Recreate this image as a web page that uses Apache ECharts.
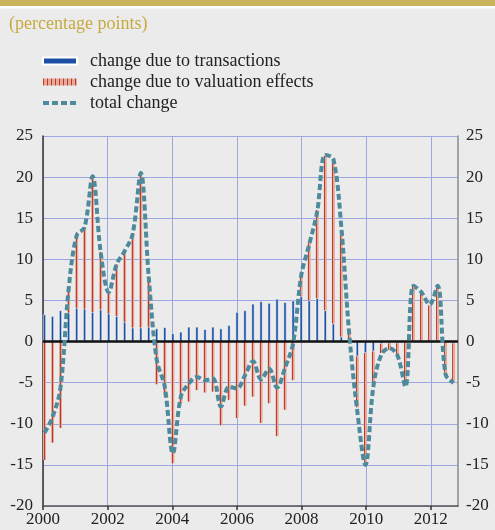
<!DOCTYPE html>
<html>
<head>
<meta charset="utf-8">
<script src="https://cdn.jsdelivr.net/npm/echarts@6/dist/echarts.min.js"></script>
<style>
  html, body { margin: 0; padding: 0; background: #ebebeb; }
  #chart { width: 495px; height: 530px; }
</style>
</head>
<body>
<div id="chart"></div>
<script>
// quarterly data, 2000 Q1 .. 2012 Q4
const firstYear = 2000
const lastYearEdge = 2012.84
const tickYears = [2000, 2002, 2004, 2006, 2008, 2010, 2012]

const transactions = [
  3.3, 3.1, 3.8, 3.5, 4.1, 4.0, 3.6, 3.9, 3.4, 3.1, 2.4, 1.7, 1.7,
  1.8, 1.6, 1.75, 1.0, 1.2, 1.8, 1.8, 1.5, 1.8, 1.6, 2.0, 3.6, 3.8,
  4.6, 4.9, 4.7, 5.2, 4.8, 5.0, 5.5, 5.0, 5.3, 3.8, 2.2, 0.6, 0.2,
  -1.8, -1.4, -1.2, -0.3, -0.2, -0.2, -0.1, 0.1, 0.1, 0.1, 0.1, -0.1, -0.2,
]
const valuation = [
  -14.4, -12.3, -10.5, 2.9, 8.8, 9.9, 16.5, 7.0, 2.5, 6.3, 8.6, 11.5, 18.8,
  6.1, -5.2, -6.7, -14.8, -7.5, -7.3, -5.9, -6.2, -6.1, -10.2, -7.1, -9.3, -7.8,
  -6.7, -9.9, -7.5, -11.5, -8.3, -4.7, 2.9, 7.0, 10.7, 18.8, 19.8, 12.8, 1.2,
  -6.2, -13.3, -4.0, -1.1, -0.8, -1.4, -5.1, 6.7, 6.1, 4.3, 6.7, -3.7, -4.6,
]
const total = [
  -11.1, -9.2, -5.6, 6.3, 12.9, 13.9, 20.1, 10.9, 6.0, 9.4, 11.0, 13.1, 20.5,
  7.9, -2.2, -5.5, -13.6, -6.7, -5.1, -4.3, -4.7, -4.5, -7.9, -5.5, -5.7, -4.1,
  -2.4, -4.6, -3.3, -5.6, -3.2, -0.2, 8.0, 11.8, 15.8, 22.7, 22.2, 14.0, 0.9,
  -8.5, -15.0, -5.5, -1.6, -0.8, -1.7, -5.5, 6.8, 6.0, 4.5, 6.8, -4.0, -5.0,
]

const fontFamily = 'Liberation Serif'
const gridColor = '#9ca7e2'
const DAY = 86400000
const YEAR = 365.25 * DAY
const t0 = Date.UTC(firstYear, 0, 1)

// quarter start dates (time axis, so bars stack on y)
const quarterDates = transactions.map((_, k) => Date.UTC(firstYear + Math.floor(k / 4), (k % 4) * 3, 1))
const toPairs = (values) => values.map((v, k) => [quarterDates[k], v])

// striped fill for valuation effects
const makeStripes = () => {
  const c = document.createElement('canvas')
  c.width = 4
  c.height = 4
  const ctx = c.getContext('2d')
  ctx.fillStyle = '#e5a999'
  ctx.fillRect(0, 0, 4, 4)
  ctx.fillStyle = '#c0392a'
  ctx.fillRect(0, 0, 1, 4)
  return c
}

const axisLabelStyle = { fontFamily: fontFamily, fontSize: 17, color: '#222' }
const lineColor = '#4d8a9b'

const chart = echarts.init(document.getElementById('chart'))
chart.setOption({
  backgroundColor: '#ebebeb',
  animation: false,
  graphic: [
    { type: 'rect', shape: { x: 0, y: 0, width: 495, height: 6 }, style: { fill: '#c9b45b' } },
    { type: 'rect', shape: { x: 0, y: 6, width: 495, height: 2.5 }, style: { fill: '#ffffff' } },
  ],
  title: {
    text: '(percentage points)',
    left: 4,
    top: 10,
    textStyle: { fontFamily: fontFamily, fontSize: 18, fontWeight: 'normal', color: '#c7a93f' },
  },
  legend: {
    orient: 'vertical',
    left: 36,
    top: 47,
    itemWidth: 34,
    itemHeight: 7,
    itemGap: 3,
    textStyle: { fontFamily: fontFamily, fontSize: 18, color: '#222', padding: [0, 0, 0, 8] },
    data: [
      { name: 'change due to transactions', icon: 'rect' },
      { name: 'change due to valuation effects', icon: 'rect' },
      {
        name: 'total change',
        itemStyle: { color: 'rgba(0,0,0,0)', borderWidth: 0 },
        lineStyle: { color: lineColor, width: 4, type: [6, 3] },
      },
    ],
  },
  grid: { left: 43, right: 37, top: 136, bottom: 24 },
  xAxis: [
    {
      // visible year axis
      type: 'value',
      position: 'bottom',
      min: firstYear,
      max: lastYearEdge,
      interval: 2,
      axisLine: { onZero: false, lineStyle: { color: '#555', width: 1.5 } },
      axisTick: { show: true, length: 4, customValues: tickYears, lineStyle: { color: '#333', width: 1.5 } },
      axisLabel: { ...axisLabelStyle, margin: 5, customValues: tickYears, formatter: (v) => String(v) },
      splitLine: { show: true, lineStyle: { color: gridColor, width: 1 } },
    },
    {
      // hidden time axis carrying the data
      type: 'time',
      position: 'top',
      show: false,
      min: t0,
      max: t0 + (lastYearEdge - firstYear) * YEAR,
      splitLine: { show: false },
    },
  ],
  yAxis: [
    {
      type: 'value',
      min: -20,
      max: 25,
      interval: 5,
      position: 'left',
      axisLine: { show: true, onZero: false, lineStyle: { color: '#333', width: 1.5 } },
      axisTick: { show: false },
      axisLabel: { ...axisLabelStyle, margin: 10 },
      splitLine: { show: true, lineStyle: { color: gridColor, width: 1 } },
    },
    {
      type: 'value',
      min: -20,
      max: 25,
      interval: 5,
      position: 'right',
      axisLine: { show: true, onZero: false, lineStyle: { color: '#8a8a8a', width: 1.5 } },
      axisTick: { show: false },
      axisLabel: { ...axisLabelStyle, margin: 8 },
      splitLine: { show: false },
    },
  ],
  series: [
    {
      name: 'change due to transactions',
      type: 'bar',
      xAxisIndex: 1,
      stack: 'change',
      barWidth: 3,
      itemStyle: { color: '#1b4fa3', borderColor: '#ffffff', borderWidth: 0.6 },
      data: toPairs(transactions),
      markLine: {
        silent: true,
        symbol: 'none',
        label: { show: false },
        lineStyle: { color: '#111', width: 2.5, type: 'solid' },
        data: [{ yAxis: 0 }],
      },
    },
    {
      name: 'change due to valuation effects',
      type: 'bar',
      xAxisIndex: 1,
      stack: 'change',
      barWidth: 2.5,
      itemStyle: { color: { image: makeStripes(), repeat: 'repeat' } },
      data: toPairs(valuation),
    },
    {
      name: 'total change',
      type: 'line',
      xAxisIndex: 1,
      smooth: 0.35,
      symbol: 'none',
      z: 10,
      lineStyle: { color: lineColor, width: 4, type: [6, 3] },
      itemStyle: { color: lineColor },
      data: toPairs(total),
    },
  ],
})
</script>
</body>
</html>
